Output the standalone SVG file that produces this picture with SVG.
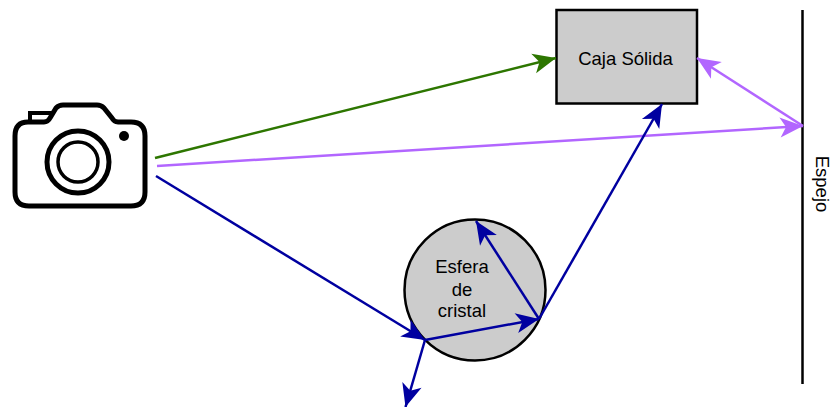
<svg xmlns="http://www.w3.org/2000/svg" width="832" height="407" viewBox="0 0 832 407">
<style>
text{font-family:"Liberation Sans",Arial,sans-serif;font-size:18.500px;fill:#000;text-anchor:middle}
.n{fill:#ccc;stroke:#000;stroke-width:2.500}
.c{fill:none;stroke-width:2.500}
.i{fill:none;stroke:#000}
</style>
<defs>
<marker id="g" markerUnits="userSpaceOnUse" markerWidth="26" markerHeight="24" refX="24" refY="12" orient="auto"><path d="M1 2L24 12L1 22L7 12Z" fill="#2d7600"/></marker>
<marker id="p" markerUnits="userSpaceOnUse" markerWidth="26" markerHeight="24" refX="24" refY="12" orient="auto"><path d="M1 2L24 12L1 22L7 12Z" fill="#b266ff"/></marker>
<marker id="b" markerUnits="userSpaceOnUse" markerWidth="26" markerHeight="24" refX="24" refY="12" orient="auto"><path d="M1 2L24 12L1 22L7 12Z" fill="#0000a0"/></marker>
</defs>
<g id="camara">
<path class="i" stroke-width="5" stroke-linejoin="round" d="M28 122H44Q48 122 50 118L56 108Q59 105 63 105H97Q101 105 104 108L112 118Q114 122 118 122H131Q145 122 145 136V192Q145 206 131 206H29Q15 206 15 192V136Q15 122 28 122Z"/>
<path class="i" stroke-width="4" d="M30 122V113H52"/>
<circle class="i" cx="78" cy="162" r="31" stroke-width="5"/>
<circle class="i" cx="78" cy="162" r="20" stroke-width="3.500"/>
<circle cx="124" cy="136" r="5" fill="#000"/>
</g>
<g id="caja"><rect class="n" x="556.500" y="10" width="140.500" height="93.500"/><text x="625.500" y="65">Caja Sólida</text></g>
<g id="esfera"><circle class="n" cx="475" cy="290" r="70.500"/><text x="462" y="273">Esfera</text><text x="462" y="296">de</text><text x="462" y="317">cristal</text></g>
<g id="espejo"><path d="M802.500 10V384" stroke="#000" stroke-width="2.500" fill="none"/><text transform="translate(816 184) rotate(90)">Espejo</text></g>
<g id="conectores">
<path class="c" stroke="#2d7600" marker-end="url(#g)" d="M155 158L556 58"/>
<path class="c" stroke="#b266ff" marker-end="url(#p)" d="M157 166L803 126"/>
<path class="c" stroke="#b266ff" marker-end="url(#p)" d="M803 126L697 58"/>
<path class="c" stroke="#0000a0" marker-end="url(#b)" d="M156 176L425 340"/>
<path class="c" stroke="#0000a0" marker-end="url(#b)" d="M425 340L539 319"/>
<path class="c" stroke="#0000a0" marker-end="url(#b)" d="M539 319L476 221"/>
<path class="c" stroke="#0000a0" marker-end="url(#b)" d="M539 319L662 104"/>
<path class="c" stroke="#0000a0" marker-end="url(#b)" d="M425 340L405.500 407"/>
</g>
</svg>
